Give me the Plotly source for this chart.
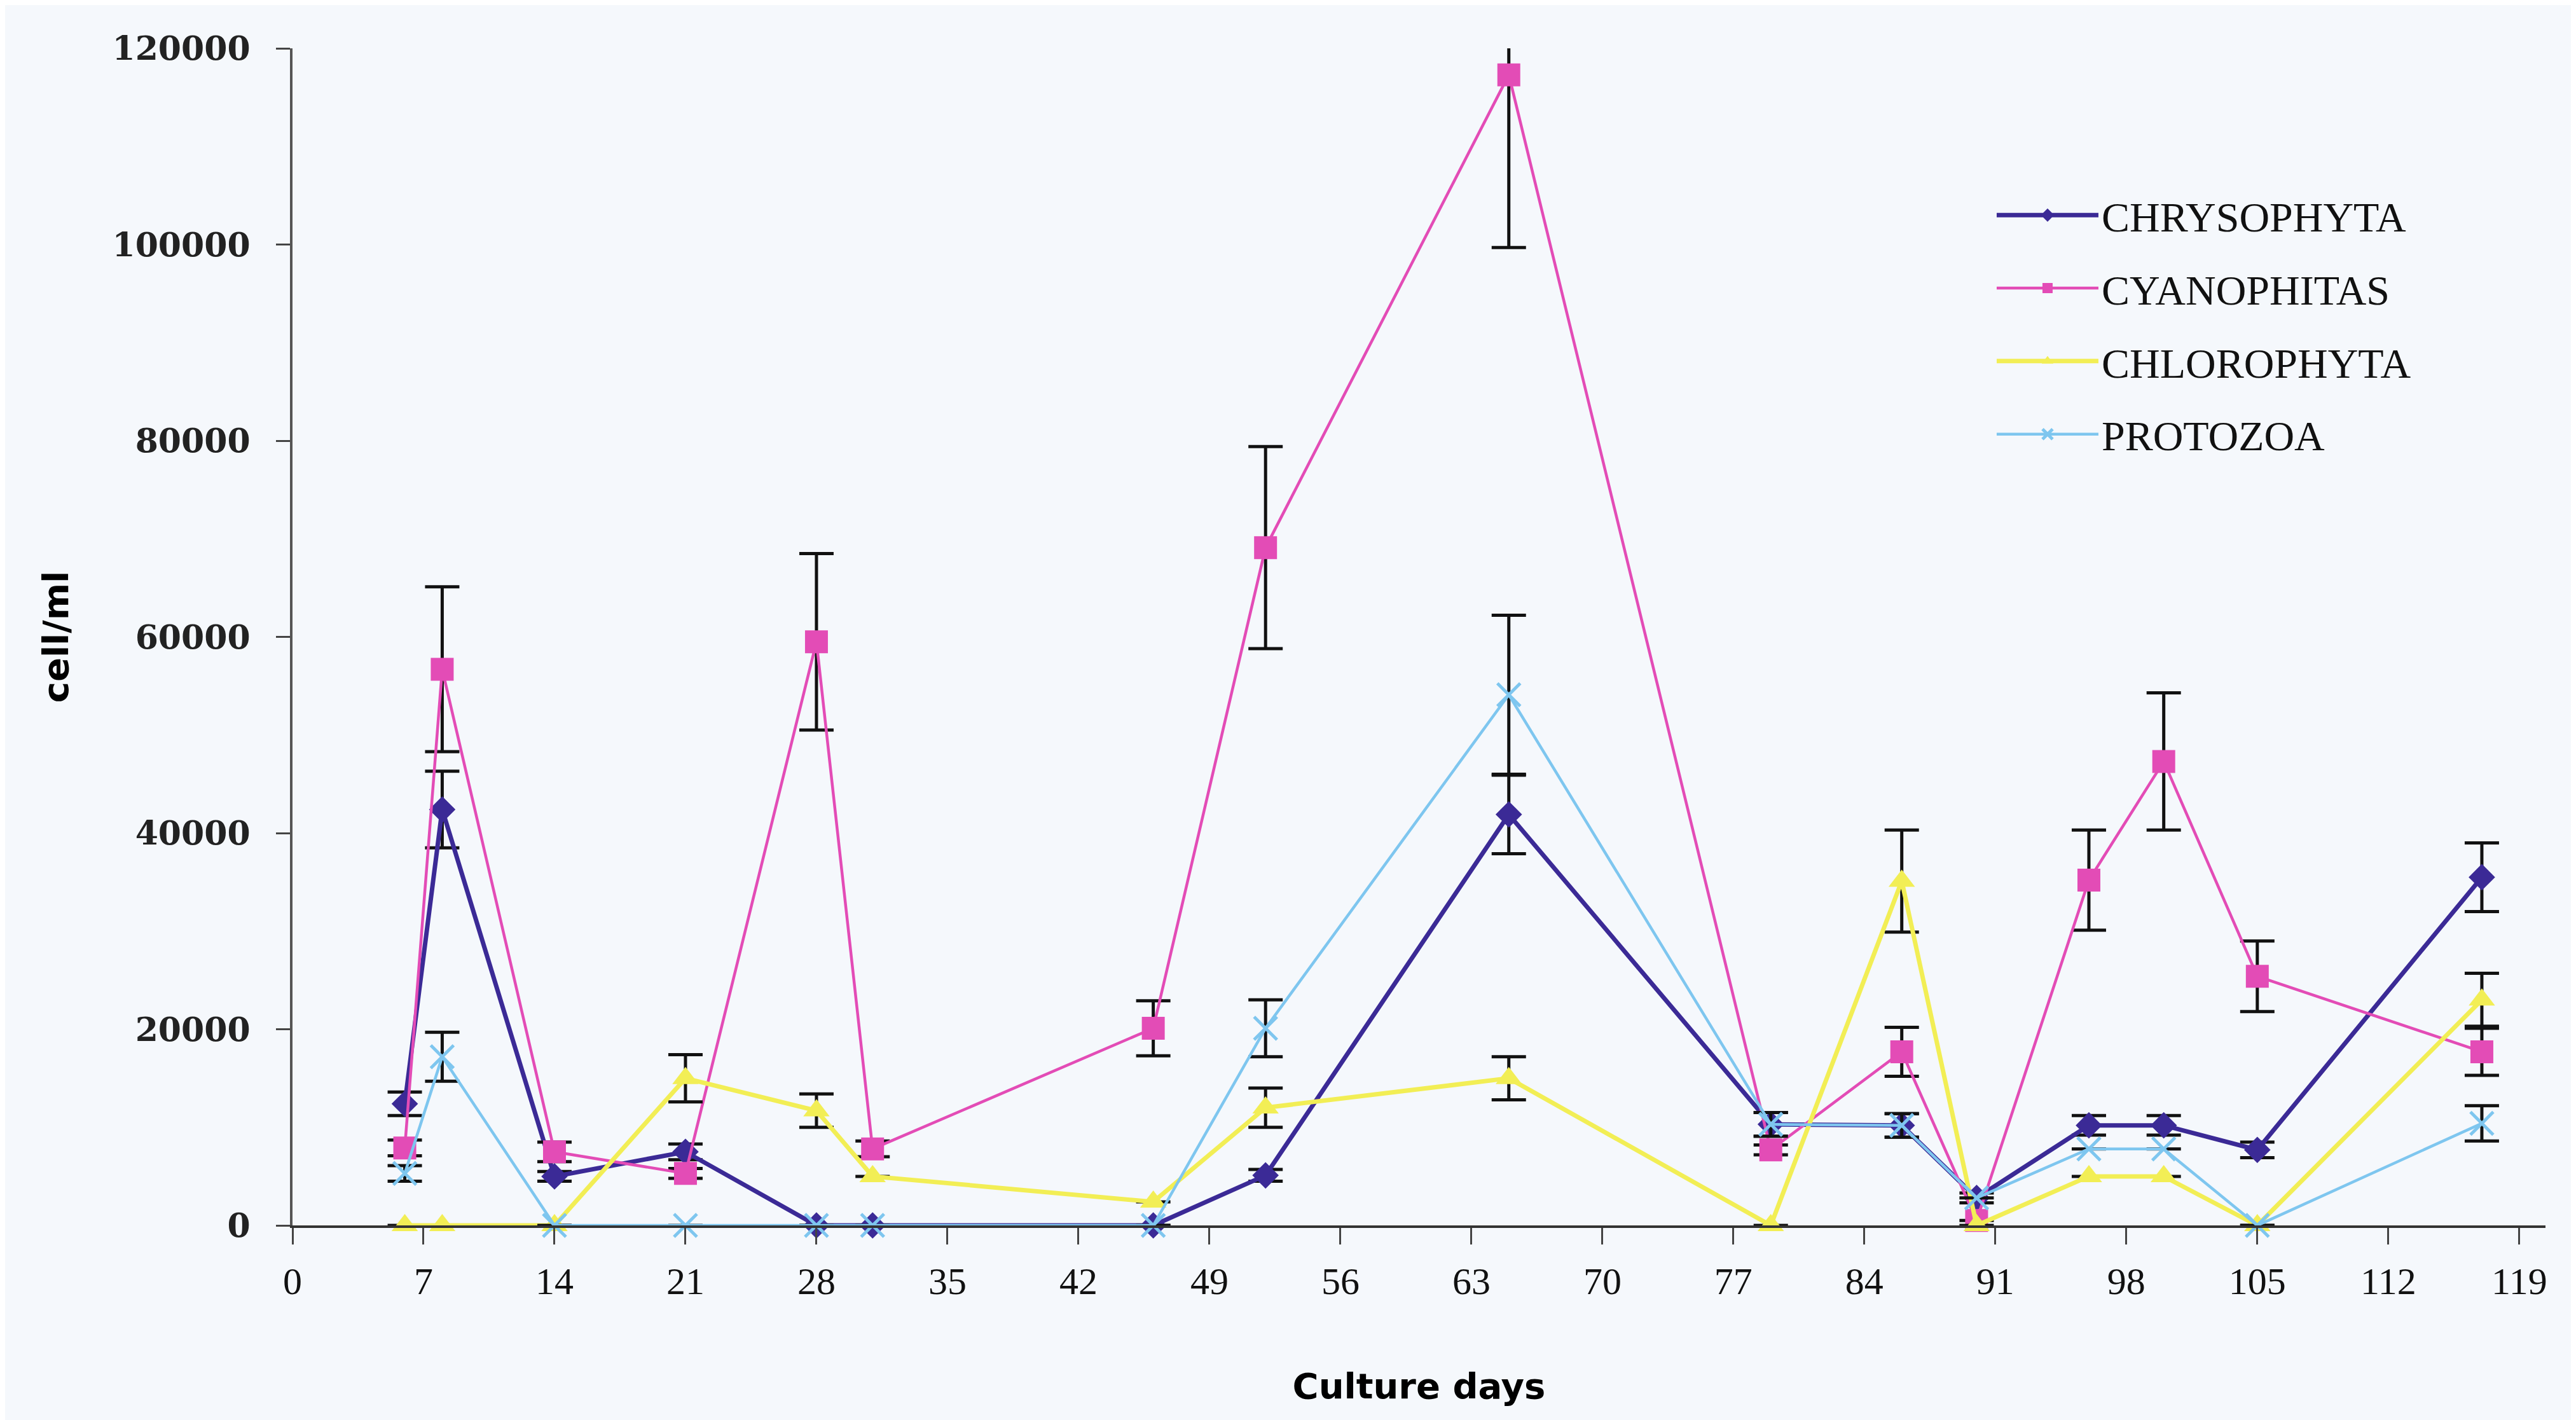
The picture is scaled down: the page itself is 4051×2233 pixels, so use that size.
import plotly.graph_objects as go

days = [6, 8, 14, 21, 28, 31, 46, 52, 65, 79, 86, 90, 96, 100, 105, 117]

chrysophyta = [12400, 42400, 5000, 7500, 0, 0, 0, 5100, 41900, 10300, 10200, 2800, 10200, 10200, 7700, 35500]
chrysophyta_err = [1200, 3900, 500, 800, 0, 0, 0, 600, 4000, 1200, 1200, 500, 1000, 1000, 800, 3500]

cyanophitas = [7900, 56700, 7500, 5300, 59500, 7800, 20100, 69100, 117300, 7700, 17700, 500, 35200, 47300, 25400, 17700]
cyanophitas_err = [800, 8400, 1000, 500, 9000, 800, 2800, 10300, 17600, 500, 2500, 0, 5100, 7000, 3600, 2400]

chlorophyta = [0, 0, 0, 15000, 11700, 5000, 2400, 12000, 15000, 0, 35100, 0, 5000, 5000, 0, 23000]
chlorophyta_err = [0, 0, 0, 2400, 1700, 0, 0, 2000, 2200, 0, 5200, 0, 0, 0, 0, 2700]

protozoa = [5300, 17200, 0, 0, 0, 0, 0, 20100, 54100, 10300, 10200, 2800, 7800, 7800, 0, 10400]
protozoa_err = [800, 2500, 0, 0, 0, 0, 0, 2900, 8100, 1200, 1200, 0, 0, 0, 0, 1800]

x_ticks = list(range(0, 120, 7))
y_ticks = [0, 20000, 40000, 60000, 80000, 100000, 120000]

series = [
    ("CHRYSOPHYTA", chrysophyta, chrysophyta_err, "#3b2a96", 7, dict(symbol="diamond", size=32)),
    ("CYANOPHITAS", cyanophitas, cyanophitas_err, "#e34cb6", 4.5, dict(symbol="square", size=36)),
    ("CHLOROPHYTA", chlorophyta, chlorophyta_err, "#f2ee55", 7, dict(symbol="triangle-up", size=36)),
    ("PROTOZOA", protozoa, protozoa_err, "#7ec6ef", 4.5, dict(symbol="x-thin", size=36)),
]

fig = go.Figure()
for name, vals, errs, color, lw, mk in series:
    marker = dict(color=color, **mk)
    if mk["symbol"] == "x-thin":
        marker["line"] = dict(color=color, width=5)
    else:
        marker["line"] = dict(width=0)
    fig.add_trace(go.Scatter(
        x=days, y=vals, name=name, mode="lines+markers",
        line=dict(color=color, width=lw),
        marker=marker,
        error_y=dict(type="data", array=errs, visible=True, color="#111111", thickness=5, width=27),
        legendgroup=name,
        cliponaxis=False,
    ))

serif = "Liberation Serif"
fig.update_layout(
    width=4051, height=2233,
    paper_bgcolor="#f5f8fc", plot_bgcolor="#f5f8fc",
    margin=dict(l=452, r=56, t=68, b=314),
    showlegend=True,
    legend=dict(
        x=0.755, y=0.885, xanchor="left", yanchor="top",
        font=dict(family=serif, size=66, color="#111111"),
        bgcolor="rgba(0,0,0,0)", borderwidth=0,
        itemwidth=160, tracegroupgap=26, traceorder="grouped",
    ),
    xaxis=dict(
        range=[0, 120.4], tickvals=x_ticks, ticktext=[str(v) for v in x_ticks],
        showgrid=False, zeroline=False,
        showline=True, linecolor="#333333", linewidth=4,
        ticks="outside", ticklen=26, tickwidth=3, tickcolor="#444444",
        tickfont=dict(family=serif, size=60, color="#111111"),
        ticklabelstandoff=6,
        title=dict(text="Culture days", font=dict(family="DejaVu Sans", size=56, color="#000000", weight="bold"), standoff=114),
    ),
    yaxis=dict(
        range=[0, 120000], tickvals=y_ticks, ticktext=[str(v) for v in y_ticks],
        showgrid=False, zeroline=False,
        showline=True, linecolor="#555555", linewidth=4,
        ticks="outside", ticklen=22, tickwidth=3, tickcolor="#444444",
        tickfont=dict(family="DejaVu Serif", size=52, color="#222222", weight="bold"),
        ticklabelstandoff=30,
        title=dict(text="cell/ml", font=dict(family="DejaVu Sans", size=56, color="#000000", weight="bold"), standoff=52),
    ),
)

fig.write_html("out.html")
